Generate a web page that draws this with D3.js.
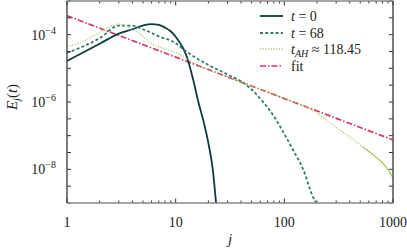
<!DOCTYPE html>
<html><head><meta charset="utf-8">
<script src="https://cdn.jsdelivr.net/npm/d3@7"></script>
<style>
html,body{margin:0;padding:0;background:#fff;}
svg{display:block;font-family:"Liberation Serif","DejaVu Serif",serif;}
</style></head>
<body><svg id="c" width="407" height="252"></svg>
<script>
// ---- data ----
const j0 = [1,2,3,4,5,6,7,8,9,10,11,12,13,14,15,16,18,20,22,23.5,25];
const e0 = [1.65e-5,5.4e-5,1.08e-4,1.45e-4,1.87e-4,2.07e-4,1.95e-4,1.62e-4,1.26e-4,8.7e-5,5.6e-5,3.4e-5,1.7e-5,7.1e-6,2.9e-6,1.15e-6,2.75e-7,6.0e-8,9.5e-9,1.07e-9,1.6e-10];
const j68 = [1,2,3,4,5,7,10,12,20,30,40,50,60,80,100,120,150,180,195,210];
const e68 = [2.85e-5,7.9e-5,1.86e-4,1.86e-4,1.45e-4,8.9e-5,5.6e-5,3.5e-5,1.26e-5,6.6e-6,4.1e-6,2.35e-6,1.26e-6,3.8e-7,1.12e-7,3.8e-8,9.5e-9,1.74e-9,1.0e-9,4e-10];
const jAH = [1,1.5,2,3,4,5,6,8,10,12,15,20,30,50,80,120,170,220,262,377,529,710,877,1000];
const eAH = [4.4e-5,6.9e-5,1.18e-4,2.07e-4,1.45e-4,8.9e-5,5.4e-5,3.8e-5,3.0e-5,2.24e-5,1.38e-5,9.2e-6,5.6e-6,2.97e-6,1.67e-6,1.01e-6,6.6e-7,3.7e-7,2.4e-7,1.05e-7,4.6e-8,2.2e-8,1.1e-8,5.5e-9];
const jFit = [1,1000];
const eFit = [3.66e-4,7.46e-8];
const xTickVals = [1,10,100,1000];
const xTickLabels = ["1","10","100","1000"];
const yLabelExps = [-4,-6,-8];
const legendLabels = ["t = 0","t = 68","t_AH ≈ 118.45","fit"];

// ---- layout ----
const L=67,R=393,T=1,B=203;
const svg=d3.select("#c");
const x=d3.scaleLog().domain([1,1000]).range([L,R]);
const y=d3.scaleLog().domain([1e-9,1e-3]).range([B,T]);

const colors={t0:"#0b3b3c",t68:"#2f7d68",tah:"#a3cc66",fit:"#d8365e"};

svg.append("clipPath").attr("id","clip").append("rect")
  .attr("x",L).attr("y",T).attr("width",R-L).attr("height",B-T);
const g=svg.append("g").attr("clip-path","url(#clip)");
const line=d3.line().x(d=>x(d[0])).y(d=>y(d[1])).curve(d3.curveMonotoneX);
const zip=(a,b)=>a.map((v,i)=>[v,b[i]]);

g.append("path").attr("d",line(zip(jFit,eFit))).attr("fill","none")
  .attr("stroke",colors.fit).attr("stroke-width",1.7).attr("stroke-dasharray","6,2,1.5,2");
g.append("path").attr("d",line(zip(j0,e0))).attr("fill","none")
  .attr("stroke",colors.t0).attr("stroke-width",1.8);
g.append("path").attr("d",line(zip(j68,e68))).attr("fill","none")
  .attr("stroke",colors.t68).attr("stroke-width",1.8).attr("stroke-dasharray","3,2.2");
const ahPts=zip(jAH,eAH);
g.append("path").attr("d",line(ahPts)).attr("fill","none")
  .attr("stroke",colors.tah).attr("stroke-width",1.3).attr("stroke-dasharray","1.1,1.6");
g.append("path").attr("d",line(ahPts.filter(d=>d[0]>=529))).attr("fill","none")
  .attr("stroke",colors.tah).attr("stroke-width",1.1);

// ---- frame & ticks ----
const ax=svg.append("g");
const xMinor=[];
for(let d=1;d<1000;d*=10) for(let k=2;k<=9;k++) xMinor.push(d*k);
xMinor.forEach(v=>{
  ax.append("line").attr("x1",x(v)).attr("x2",x(v)).attr("y1",B).attr("y2",B-2.5).attr("stroke","#333");
  ax.append("line").attr("x1",x(v)).attr("x2",x(v)).attr("y1",T).attr("y2",T+2.5).attr("stroke","#333");
});
xTickVals.forEach(v=>{
  ax.append("line").attr("x1",x(v)).attr("x2",x(v)).attr("y1",B).attr("y2",B-4.5).attr("stroke","#333");
  ax.append("line").attr("x1",x(v)).attr("x2",x(v)).attr("y1",T).attr("y2",T+4.5).attr("stroke","#333");
});
for(let k=0;k<=12;k++){
  const v=Math.pow(10,-9+k/2);
  ax.append("line").attr("x1",L).attr("x2",L+4).attr("y1",y(v)).attr("y2",y(v)).attr("stroke","#333");
  ax.append("line").attr("x1",R).attr("x2",R-4).attr("y1",y(v)).attr("y2",y(v)).attr("stroke","#333");
}
ax.append("line").attr("x1",L).attr("x2",R).attr("y1",B).attr("y2",B).attr("stroke","#888").attr("stroke-width",1.5);
ax.append("line").attr("x1",L).attr("x2",R).attr("y1",T).attr("y2",T).attr("stroke","#888").attr("stroke-width",1.5);
ax.append("line").attr("x1",L).attr("x2",L).attr("y1",T).attr("y2",B).attr("stroke","#444").attr("stroke-width",1.4);
ax.append("line").attr("x1",R).attr("x2",R).attr("y1",T).attr("y2",B).attr("stroke","#444").attr("stroke-width",1.4);

// tick labels
xTickVals.forEach((v,i)=>{
  svg.append("text").attr("x",x(v)).attr("y",227).attr("text-anchor","middle")
    .attr("font-size",14).attr("fill","#222").text(xTickLabels[i]);
});
yLabelExps.forEach(e=>{
  const yy=y(Math.pow(10,e));
  const t=svg.append("text").attr("x",56).attr("y",yy+5).attr("text-anchor","end").attr("font-size",14).attr("fill","#222");
  t.append("tspan").text("10");
  t.append("tspan").attr("dy",-6).attr("font-size",10).text("−"+Math.abs(e));
});
// axis titles
svg.append("text").attr("x",230).attr("y",244).attr("text-anchor","middle").attr("font-size",15)
  .attr("font-style","italic").attr("fill","#222").text("j");
const yt=svg.append("text").attr("transform","translate(17,97) rotate(-90)").attr("text-anchor","middle")
  .attr("font-size",15).attr("fill","#222");
yt.append("tspan").attr("font-style","italic").text("E");
yt.append("tspan").attr("font-style","italic").attr("font-size",10).attr("dy",3).text("j");
yt.append("tspan").attr("dy",-3).text("(");
yt.append("tspan").attr("font-style","italic").text("t");
yt.append("tspan").text(")");

// ---- legend ----
const lg=svg.append("g");
const rows=[16,33,49,66];
const styles=[
  {c:colors.t0,w:1.8,d:null},
  {c:colors.t68,w:1.8,d:"3,2.2"},
  {c:colors.tah,w:1.3,d:"1.1,1.6"},
  {c:colors.fit,w:1.7,d:"6,2,1.5,2"}];
rows.forEach((ry,i)=>{
  const s=styles[i];
  lg.append("line").attr("x1",260).attr("x2",283).attr("y1",ry).attr("y2",ry)
    .attr("stroke",s.c).attr("stroke-width",s.w).attr("stroke-dasharray",s.d);
  const t=lg.append("text").attr("x",291).attr("y",ry+5).attr("font-size",14).attr("fill","#222");
  if(i<2){
    const parts=legendLabels[i].split(" = ");
    t.append("tspan").attr("font-style","italic").text(parts[0]);
    t.append("tspan").text(" = "+parts[1]);
  } else if(i===2){
    t.append("tspan").attr("font-style","italic").text("t");
    t.append("tspan").attr("font-style","italic").attr("font-size",10).attr("dy",3).text("AH");
    t.append("tspan").attr("dy",-3).text(" ≈ 118.45");
  } else {
    t.text(legendLabels[i]);
  }
});
</script></body></html>
